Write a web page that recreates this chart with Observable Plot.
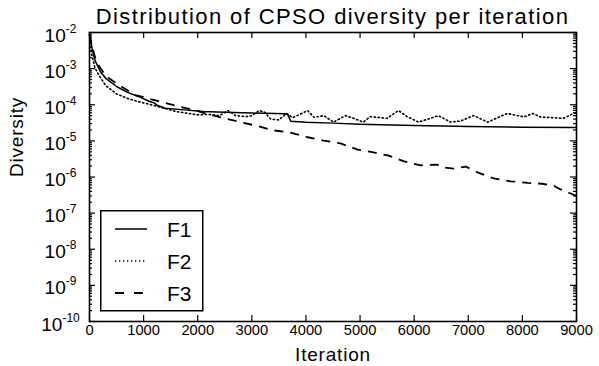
<!DOCTYPE html>
<html>
<head>
<meta charset="utf-8">
<script src="https://cdn.jsdelivr.net/npm/d3@7"></script>
<script src="https://cdn.jsdelivr.net/npm/@observablehq/plot@0.6"></script>
<style>
  html, body { margin: 0; padding: 0; background: #fff; }
  #wrap { position: relative; width: 599px; height: 366px; font-family: "Liberation Sans", Arial, sans-serif; color: #000; }
  #title { position: absolute; left: 89px; width: 487px; top: 4px; text-align: center; font-size: 22px; letter-spacing: 1.4px; white-space: nowrap; line-height: normal; }
  #chart { position: absolute; left: 0; top: 31px; }
  #legend { position: absolute; left: 100px; top: 210px; }
</style>
</head>
<body>
<div id="wrap">
  <div id="title">Distribution of CPSO diversity per iteration</div>
  <div id="chart"></div>
  <svg id="legend" width="104" height="102"></svg>
</div>
<script>
// ---- data ----
const seriesNames = ["F1", "F2", "F3"];

const f1Iter = [0, 20, 50, 100, 200, 300, 500, 700, 900, 1100, 1200, 1260, 1400, 1800, 2100, 2500, 3000, 3600, 3660, 3720, 4000, 4500, 5000, 6000, 7000, 8000, 9000];
const f1Val  = [9e-3, 6.3e-3, 3.5e-3, 1.7e-3, 8.3e-4, 5.4e-4, 3.2e-4, 2.2e-4, 1.7e-4, 1.25e-4, 1.12e-4, 9.5e-5, 8.0e-5, 7.1e-5, 6.5e-5, 6.2e-5, 5.9e-5, 5.6e-5, 5.5e-5, 3.5e-5, 3.3e-5, 3.1e-5, 2.9e-5, 2.65e-5, 2.5e-5, 2.4e-5, 2.35e-5];

const f2Iter = [0, 40, 100, 200, 300, 500, 700, 900, 1200, 1600, 2000, 2200, 2400, 2560, 2700, 2900, 3000, 3140, 3230, 3350, 3500, 3640, 3750, 3900, 4030, 4150, 4330, 4510, 4730, 4880, 5060, 5190, 5500, 5710, 5870, 6080, 6450, 6670, 6860, 7100, 7360, 7720, 8030, 8190, 8340, 8760, 8950, 9000];
const f2Val  = [8.9e-3, 2.5e-3, 1.05e-3, 5.7e-4, 3.4e-4, 2.0e-4, 1.5e-4, 1.23e-4, 9.5e-5, 6.5e-5, 5.25e-5, 5.4e-5, 5.0e-5, 6.9e-5, 5.0e-5, 4.7e-5, 5.0e-5, 6.9e-5, 6.3e-5, 4.0e-5, 3.8e-5, 5.75e-5, 4.4e-5, 5.5e-5, 6.9e-5, 4.5e-5, 5.0e-5, 3.3e-5, 5.0e-5, 4.2e-5, 3.3e-5, 4.7e-5, 4.2e-5, 6.9e-5, 4.7e-5, 3.3e-5, 5.0e-5, 3.3e-5, 3.55e-5, 5.0e-5, 3.3e-5, 5.75e-5, 4.6e-5, 5.75e-5, 4.6e-5, 4.2e-5, 5.75e-5, 6.0e-5];

const f3Iter = [0, 50, 110, 170, 300, 540, 850, 1220, 1590, 1960, 2420, 2790, 3100, 3400, 3715, 4030, 4325, 4640, 4955, 5250, 5530, 5800, 6120, 6430, 6520, 6730, 6950, 7170, 7470, 7780, 8100, 8370, 8580, 8670, 8890, 9000];
const f3Val  = [8.9e-3, 4.0e-3, 1.9e-3, 1.23e-3, 6.3e-4, 3.5e-4, 1.85e-4, 1.32e-4, 9.5e-5, 6.9e-5, 4.5e-5, 3.3e-5, 2.6e-5, 1.95e-5, 1.7e-5, 1.26e-5, 1.02e-5, 8.5e-6, 5.75e-6, 4.8e-6, 3.9e-6, 2.75e-6, 2.1e-6, 2.2e-6, 1.86e-6, 1.7e-6, 1.95e-6, 1.35e-6, 9.1e-7, 7.6e-7, 6.9e-7, 6.5e-7, 5.75e-7, 4.8e-7, 3.5e-7, 3.0e-7];

const xTicks = [0, 1000, 2000, 3000, 4000, 5000, 6000, 7000, 8000, 9000];
const yTicks = [1e-10, 1e-9, 1e-8, 1e-7, 1e-6, 1e-5, 1e-4, 1e-3, 1e-2];
const yMinorTicks = yTicks.slice(0, -1).flatMap(d => [2, 3, 4, 5, 6, 7, 8, 9].map(m => m * d));

// ---- build tables ----
const toRows = (name, it, v) => it.map((x, i) => ({series: name, iter: x, value: v[i]}));
const rows = [
  ...toRows("F1", f1Iter, f1Val),
  ...toRows("F2", f2Iter, f2Val),
  ...toRows("F3", f3Iter, f3Val)
];
const dashes = {F1: null, F2: "1.3,2.7", F3: "9,7"};
const widths = {F1: 1.5, F2: 1.6, F3: 1.8};

const W = 599, H = 335, mL = 89, mR = 23, mT = 1, mB = 45;
const innerW = W - mL - mR, innerH = H - mT - mB;

const font = "'Liberation Sans', Arial, sans-serif";
// tick marks pointing into the frame, drawn with tick marks inset from the far side
const xTick = (side, len) => Plot.tickX(xTicks, {x: d => d, stroke: "black", strokeWidth: 1.2,
  insetTop: side === "bottom" ? innerH - len : 0, insetBottom: side === "top" ? innerH - len : 0});
const yTick = (vals, side, len) => Plot.tickY(vals, {y: d => d, stroke: "black", strokeWidth: 1.2,
  insetRight: side === "left" ? innerW - len : 0, insetLeft: side === "right" ? innerW - len : 0});

const chart = Plot.plot({
  width: W,
  height: H,
  marginLeft: mL,
  marginRight: mR,
  marginTop: mT,
  marginBottom: mB,
  style: {fontFamily: font, color: "#000", background: "#fff", overflow: "visible"},
  x: {domain: [0, 9000]},
  y: {type: "log", domain: [1e-10, 1e-2]},
  marks: [
    ...seriesNames.map(s => Plot.line(rows.filter(r => r.series === s), {
      x: "iter", y: "value", stroke: "black",
      strokeWidth: widths[s], strokeDasharray: dashes[s], strokeLinecap: s === "F2" ? "round" : "butt"
    })),
    xTick("bottom", 6),
    xTick("top", 6),
    yTick(yTicks, "left", 6),
    yTick(yTicks, "right", 6),
    yTick(yMinorTicks, "left", 3),
    yTick(yMinorTicks, "right", 3),
    Plot.axisX({anchor: "bottom", ticks: xTicks, tickSize: 0, tickPadding: 3, fontSize: 14.7, label: null, tickFormat: d => String(d)}),
    Plot.axisY({anchor: "left", ticks: yTicks, tickSize: 0, tickPadding: 29, textAnchor: "middle", fontSize: 19, dy: 3, label: null,
      tickFormat: d => String(Math.round(Math.log10(d)))}),
    Plot.frame({stroke: "black", strokeWidth: 1.6}),
    Plot.text(["Iteration"], {frameAnchor: "bottom", lineAnchor: "top", dy: 26, fontSize: 19, fill: "black"}),
    Plot.text(["Diversity"], {frameAnchor: "left", rotate: -90, dx: -73, fontSize: 19, fill: "black"})
  ]
});

// superscript exponents on the y tick labels
chart.querySelectorAll('g[aria-label="y-axis tick label"] text').forEach(t => {
  const e = t.textContent;
  if (!/^-?\d+$/.test(e)) return;
  t.textContent = "10";
  const ts = document.createElementNS("http://www.w3.org/2000/svg", "tspan");
  ts.setAttribute("dy", "-9");
  ts.setAttribute("font-size", "12");
  ts.textContent = e;
  t.appendChild(ts);
});
chart.querySelectorAll('g[aria-label="text"] text').forEach(t => t.style.letterSpacing = "0.8px");
document.getElementById("chart").appendChild(chart);

// legend (inset, lower left)
const lg = d3.select("#legend");
lg.append("rect").attr("x", 0.75).attr("y", 0.75).attr("width", 102).attr("height", 100)
  .attr("fill", "white").attr("stroke", "black").attr("stroke-width", 1.5);
seriesNames.forEach((s, i) => {
  const cy = 19 + i * 32;
  lg.append("line").attr("x1", 15).attr("x2", s === "F3" ? 43 : 47).attr("y1", cy).attr("y2", cy)
    .attr("stroke", "black").attr("stroke-width", widths[s])
    .attr("stroke-dasharray", s === "F3" ? "9,10" : dashes[s]);
  lg.append("text").attr("x", 67).attr("y", cy).attr("dy", "0.36em")
    .attr("font-family", font).attr("font-size", 21).text(s);
});
</script>
</body>
</html>
